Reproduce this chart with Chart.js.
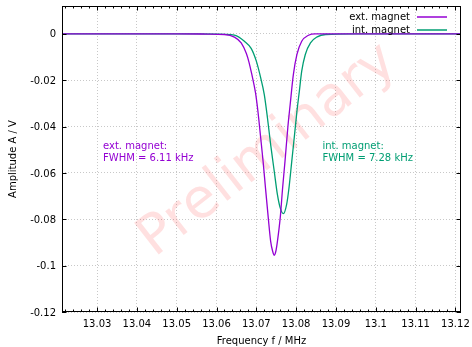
<!DOCTYPE html>
<html>
<head>
<meta charset="utf-8">
<script src="https://cdn.jsdelivr.net/npm/chart.js@4.4.1/dist/chart.umd.min.js"></script>
<style>
  html, body { margin: 0; padding: 0; background: #fff; }
  #wrap { width: 472px; height: 347px; }
</style>
</head>
<body>
<div id="wrap"><canvas id="grafico" width="472" height="347"></canvas></div>
<script>
// dados (frequência em MHz, amplitude em V)
const extFreq = [13.0212, 13.0500, 13.0577, 13.0620, 13.0645, 13.0662, 13.0675, 13.0682, 13.0688, 13.0698,
                 13.0704, 13.0711, 13.0717, 13.0723, 13.0730, 13.0736, 13.0741, 13.0745, 13.0749, 13.0753,
                 13.0760, 13.0766, 13.0772, 13.0779, 13.0785, 13.0793, 13.0802, 13.0814, 13.0831, 13.0848,
                 13.1214];
const extAmp = [0, 0, -0.0001, -0.0003, -0.0014, -0.0039, -0.0085, -0.0125, -0.0170, -0.0255,
                -0.0334, -0.0449, -0.0550, -0.0665, -0.0794, -0.0895, -0.0938, -0.0955, -0.0938, -0.0895,
                -0.0794, -0.0665, -0.0550, -0.0406, -0.0305, -0.0176, -0.0089, -0.0032, -0.0006, 0,
                0];

const intFreq = [13.0212, 13.0550, 13.0620, 13.0645, 13.0670, 13.0687, 13.0700, 13.0711, 13.0720, 13.0728,
                 13.0736, 13.0745, 13.0753, 13.0760, 13.0768, 13.0776, 13.0782, 13.0789, 13.0796, 13.0802,
                 13.0808, 13.0814, 13.0823, 13.0836, 13.0853, 13.0874, 13.0950, 13.1214];
const intAmp = [0, 0, -0.0002, -0.0006, -0.0032, -0.0063, -0.0118, -0.0190, -0.0262, -0.0363,
                -0.0478, -0.0593, -0.0694, -0.0751, -0.0776, -0.0737, -0.0665, -0.0550, -0.0435, -0.0334,
                -0.0248, -0.0161, -0.0089, -0.0039, -0.0013, -0.0003, 0, 0];

const seriesNames = ['ext. magnet', 'int. magnet'];
const seriesColors = ['#9400d3', '#009e73'];

const xTicks = [13.03, 13.04, 13.05, 13.06, 13.07, 13.08, 13.09, 13.10, 13.11, 13.12];
const yTicks = [0, -0.02, -0.04, -0.06, -0.08, -0.10, -0.12];
const xRange = [13.0212, 13.1214];
const yRange = [-0.12, 0.012];

// anotações FWHM (posição em unidades dos eixos)
const notas = [
    { x: 13.0315, y: -0.0485, cor: seriesColors[0], linhas: ['ext. magnet:', 'FWHM = 6.11 kHz'] },
    { x: 13.0866, y: -0.0485, cor: seriesColors[1], linhas: ['int. magnet:', 'FWHM = 7.28 kHz'] }
];

const fonte = 'DejaVu Sans';
const fmt = v => String(parseFloat(v.toFixed(2)));

const pontos = (xs, ys) => xs.map((x, i) => ({ x: x, y: ys[i] }));

const semPadding = s => { s.paddingTop = 0; s.paddingBottom = 0; s.paddingLeft = 0; s.paddingRight = 0; };

// moldura, marcas de escala (para dentro), legenda, textos e marca d'água
const extras = {
    id: 'extras',
    beforeDatasetsDraw(chart) {
        const ctx = chart.ctx;
        const a = chart.chartArea;
        ctx.save();
        ctx.beginPath();
        ctx.rect(a.left, a.top, a.right - a.left, a.bottom - a.top);
        ctx.clip();
        ctx.translate(268, 151);
        ctx.rotate(-38 * Math.PI / 180);
        ctx.font = '55px "' + fonte + '"';
        ctx.fillStyle = 'rgba(255, 0, 0, 0.12)';
        ctx.textAlign = 'center';
        ctx.textBaseline = 'middle';
        ctx.fillText('Preliminary', 0, 0);
        ctx.restore();
    },
    afterDatasetsDraw(chart) {
        const ctx = chart.ctx;
        const a = chart.chartArea;
        const sx = chart.scales.x, sy = chart.scales.y;
        ctx.save();
        ctx.strokeStyle = '#000';
        ctx.lineWidth = 1;
        ctx.beginPath();
        // marcas em x
        for (let k = Math.ceil(xRange[0] / 0.002); k * 0.002 <= xRange[1]; k++) {
            const v = k * 0.002;
            const px = Math.round(sx.getPixelForValue(v)) + 0.5;
            const major = xTicks.some(t => Math.abs(t - v) < 1e-6);
            const len = major ? 4.5 : 2.5;
            ctx.moveTo(px, a.bottom); ctx.lineTo(px, a.bottom - len);
            ctx.moveTo(px, a.top); ctx.lineTo(px, a.top + len);
        }
        // marcas em y
        yTicks.forEach(t => {
            const py = Math.round(sy.getPixelForValue(t)) + 0.5;
            ctx.moveTo(a.left, py); ctx.lineTo(a.left + 4.5, py);
            ctx.moveTo(a.right, py); ctx.lineTo(a.right - 4.5, py);
        });
        ctx.stroke();
        ctx.strokeRect(Math.round(a.left) + 0.5, Math.round(a.top) + 0.5,
                       Math.round(a.right - a.left) - 1, Math.round(a.bottom - a.top) - 1);

        // legenda
        ctx.font = '10px "' + fonte + '"';
        ctx.textAlign = 'right';
        ctx.textBaseline = 'middle';
        seriesNames.forEach((nome, i) => {
            const y = 17 + i * 13;
            ctx.fillStyle = '#000';
            ctx.fillText(nome, 410, y);
            ctx.strokeStyle = seriesColors[i];
            ctx.lineWidth = 1.5;
            ctx.beginPath();
            ctx.moveTo(417, y); ctx.lineTo(447, y);
            ctx.stroke();
        });

        // textos FWHM
        ctx.textAlign = 'left';
        notas.forEach(n => {
            ctx.fillStyle = n.cor;
            const px = sx.getPixelForValue(n.x);
            const py = sy.getPixelForValue(n.y);
            n.linhas.forEach((l, j) => ctx.fillText(l, px, py + j * 12));
        });
        ctx.restore();
    }
};

document.addEventListener('DOMContentLoaded', function () {
    const ctx = document.getElementById('grafico').getContext('2d');
    new Chart(ctx, {
        type: 'scatter',
        data: {
            datasets: seriesNames.map((nome, i) => ({
                label: nome,
                data: i === 0 ? pontos(extFreq, extAmp) : pontos(intFreq, intAmp),
                showLine: true,
                borderColor: seriesColors[i],
                backgroundColor: seriesColors[i],
                borderWidth: 1.3,
                pointRadius: 0,
                cubicInterpolationMode: 'monotone'
            }))
        },
        options: {
            responsive: false,
            animation: false,
            layout: { padding: { left: 0, top: 6, right: 11, bottom: 0 } },
            plugins: {
                legend: { display: false },
                tooltip: { enabled: false }
            },
            scales: {
                x: {
                    type: 'linear',
                    min: xRange[0],
                    max: xRange[1],
                    afterBuildTicks: s => { s.ticks = xTicks.map(v => ({ value: v })); },
                    afterFit: s => { s.height = 35; semPadding(s); },
                    ticks: {
                        callback: v => fmt(v),
                        font: { family: fonte, size: 10 },
                        color: '#000',
                        padding: 6,
                        maxRotation: 0,
                        autoSkip: false
                    },
                    grid: { color: '#c8c8c8', lineWidth: 1, drawTicks: false },
                    border: { display: false, dash: [1, 2] },
                    title: {
                        display: true,
                        text: 'Frequency f / MHz',
                        font: { family: fonte, size: 10 },
                        color: '#000',
                        padding: { top: 0, bottom: 0 }
                    }
                },
                y: {
                    type: 'linear',
                    min: yRange[0],
                    max: yRange[1],
                    afterBuildTicks: s => { s.ticks = yTicks.map(v => ({ value: v })); },
                    afterFit: s => { s.width = 62; semPadding(s); },
                    ticks: {
                        callback: v => fmt(v),
                        font: { family: fonte, size: 10 },
                        color: '#000',
                        padding: 6,
                        labelOffset: 1,
                        autoSkip: false
                    },
                    grid: { color: '#c8c8c8', lineWidth: 1, drawTicks: false },
                    border: { display: false, dash: [1, 2] },
                    title: {
                        display: true,
                        text: 'Amplitude A / V',
                        font: { family: fonte, size: 10 },
                        color: '#000',
                        padding: { top: 7, bottom: 0 }
                    }
                }
            }
        },
        plugins: [extras]
    });
});
</script>
</body>
</html>
